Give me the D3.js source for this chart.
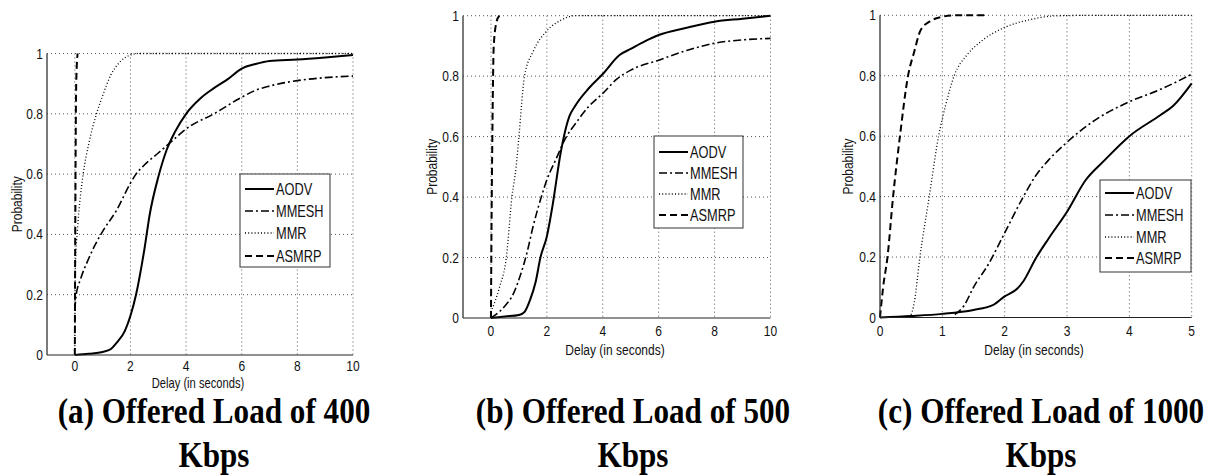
<!DOCTYPE html>
<html><head><meta charset="utf-8">
<script src="https://cdn.jsdelivr.net/npm/d3@7"></script>
<style>body{margin:0;background:#fff}svg{display:block}</style>
</head><body>
<svg id="c" width="1219" height="476"></svg>
<script>
// ---- data ----
const seriesNames = ["AODV", "MMESH", "MMR", "ASMRP"];
const yTicks = [0, 0.2, 0.4, 0.6, 0.8, 1];
const yTickLabels = ["0", "0.2", "0.4", "0.6", "0.8", "1"];
const xTicksAB = [0, 2, 4, 6, 8, 10];
const xTicksC = [0, 1, 2, 3, 4, 5];
const captions = [["(a) Offered Load of 400", "Kbps"], ["(b) Offered Load of 500", "Kbps"], ["(c) Offered Load of 1000", "Kbps"]];

// Panel (a) 400 Kbps
const aodvA = [[0,0],[0.5,0.004],[1,0.01],[1.3,0.02],[1.5,0.04],[1.8,0.08],[2,0.13],[2.2,0.2],[2.5,0.35],[2.7,0.47],[3,0.59],[3.3,0.68],[3.6,0.74],[4,0.8],[4.5,0.85],[5,0.885],[5.5,0.915],[6,0.95],[6.5,0.965],[7,0.975],[8,0.98],[9,0.987],[10,0.995]];
const mmeshA = [[0,0.15],[0.05,0.2],[0.2,0.25],[0.5,0.32],[0.7,0.36],[1,0.41],[1.5,0.48],[2,0.57],[2.2,0.6],[2.5,0.63],[3,0.67],[3.5,0.71],[4,0.75],[5,0.8],[6,0.855],[6.5,0.878],[7,0.892],[8,0.91],[9,0.92],[10,0.925]];
const mmrA = [[0,0.02],[0.02,0.3],[0.1,0.42],[0.3,0.6],[0.5,0.7],[0.78,0.8],[1,0.86],[1.3,0.93],[1.6,0.97],[2,0.995],[2.3,1],[10,1]];
const asmrpA = [[0,0],[0.02,0.5],[0.05,0.9],[0.1,1]];

// Panel (b) 500 Kbps
const aodvB = [[0,0],[0.5,0.005],[1,0.01],[1.2,0.02],[1.4,0.06],[1.6,0.12],[1.77,0.2],[2,0.27],[2.2,0.37],[2.5,0.55],[2.8,0.666],[3,0.7],[3.5,0.76],[4,0.807],[4.6,0.87],[5,0.89],[5.5,0.915],[6,0.936],[7,0.96],[8,0.98],[9,0.99],[10,1]];
const mmeshB = [[0,0],[0.5,0.04],[0.8,0.08],[1,0.127],[1.3,0.22],[1.5,0.3],[1.8,0.4],[2,0.457],[2.3,0.52],[2.7,0.6],[3,0.64],[3.5,0.7],[4,0.743],[4.5,0.79],[5,0.82],[6,0.853],[7,0.885],[8,0.909],[9,0.92],[10,0.925]];
const mmrB = [[0,0.02],[0.3,0.1],[0.55,0.2],[0.75,0.4],[0.9,0.5],[1,0.6],[1.2,0.8],[1.5,0.88],[2,0.95],[2.5,0.985],[3,1],[10,1]];
const asmrpB = [[0,0],[0.02,0.3],[0.05,0.6],[0.1,0.9],[0.2,0.98],[0.3,1]];

// Panel (c) 1000 Kbps
const aodvC = [[0,0],[0.5,0.005],[1,0.012],[1.5,0.025],[1.8,0.04],[2,0.07],[2.2,0.095],[2.3,0.12],[2.5,0.196],[2.7,0.26],[3,0.35],[3.3,0.455],[3.6,0.52],[4,0.6],[4.5,0.67],[4.7,0.7],[5,0.775]];
const mmeshC = [[1.2,0.01],[1.35,0.04],[1.5,0.1],[1.75,0.18],[2,0.28],[2.3,0.4],[2.5,0.47],[2.7,0.52],[3,0.58],[3.5,0.66],[4,0.714],[4.5,0.755],[5,0.805]];
const mmrC = [[0.48,0],[0.55,0.05],[0.64,0.2],[0.79,0.4],[0.94,0.6],[1.05,0.7],[1.19,0.8],[1.4,0.87],[1.6,0.91],[2,0.96],[2.4,0.985],[2.8,0.998],[3.5,1],[5,1]];
const asmrpC = [[0,0],[0.05,0.1],[0.12,0.2],[0.21,0.4],[0.32,0.6],[0.45,0.8],[0.55,0.88],[0.65,0.95],[0.8,0.98],[1,0.995],[1.2,1],[1.7,1]];

// ---- layout / styles ----
const styles = [
  {dash: null, w: 2},
  {dash: "8,3,2,3", w: 1.6},
  {dash: "1,2.2", w: 1.3},
  {dash: "7,4", w: 2}
];
const panels = [
  {left:47, right:353, top:53.5, bottom:355, xdom:[-1,10], xticks:xTicksAB, series:[aodvA,mmeshA,mmrA,asmrpA],
   legend:{x:240,y:174,w:90,h:93,rows:[189,211,233,256]}, tickY:371, xlabX:198, xlabY:388, xlabSize:14, ylabX:22, capX:214},
  {left:463, right:770.5, top:15.7, bottom:318, xdom:[-1,10], xticks:xTicksAB, series:[aodvB,mmeshB,mmrB,asmrpB],
   legend:{x:654,y:136,w:89,h:92,rows:[152,173,194,215]}, tickY:336, xlabX:615, xlabY:355, xlabSize:15, ylabX:437, capX:633},
  {left:880, right:1191.7, top:15.3, bottom:317.5, xdom:[0,5], xticks:xTicksC, series:[aodvC,mmeshC,mmrC,asmrpC],
   legend:{x:1100,y:180,w:91,h:92,rows:[193,215,237,258]}, tickY:336, xlabX:1034, xlabY:355, xlabSize:15, ylabX:853, capX:1041}
];
const SX = 0.8;
const svg = d3.select("#c");

function txt(g, x, y, s, size, anchor) {
  return g.append("text")
    .attr("transform", `translate(${x},${y}) scale(${SX},1)`)
    .attr("text-anchor", anchor)
    .attr("font-family", "'Liberation Sans', Arial, sans-serif")
    .attr("font-size", size)
    .attr("fill", "#111")
    .text(s);
}

panels.forEach((p, pi) => {
  const g = svg.append("g");
  const x = d3.scaleLinear().domain(p.xdom).range([p.left, p.right]);
  const y = d3.scaleLinear().domain([0,1]).range([p.bottom, p.top]);
  // grid
  g.selectAll(".gx").data(p.xticks.filter(t => x(t) > p.left + 1)).enter().append("line")
    .attr("x1", d => x(d)).attr("x2", d => x(d)).attr("y1", p.top).attr("y2", p.bottom)
    .attr("stroke", "#555").attr("stroke-width", 1).attr("stroke-dasharray", "1,3");
  g.selectAll(".gy").data(yTicks.filter(t => t > 0)).enter().append("line")
    .attr("x1", p.left).attr("x2", p.right).attr("y1", d => y(d)).attr("y2", d => y(d))
    .attr("stroke", "#555").attr("stroke-width", 1).attr("stroke-dasharray", "1,3");
  // curves
  const line = d3.line().x(d => x(d[0])).y(d => y(d[1])).curve(d3.curveMonotoneX);
  p.series.forEach((s, si) => {
    const st = styles[si];
    const path = g.append("path").datum(s).attr("d", line)
      .attr("fill", "none").attr("stroke", "#000").attr("stroke-width", st.w);
    if (st.dash) path.attr("stroke-dasharray", st.dash);
  });
  // axes (left & bottom only)
  g.append("line").attr("x1", p.left).attr("x2", p.left).attr("y1", p.top).attr("y2", p.bottom)
    .attr("stroke", "#222").attr("stroke-width", 1.2);
  g.append("line").attr("x1", p.left).attr("x2", p.right).attr("y1", p.bottom).attr("y2", p.bottom)
    .attr("stroke", "#222").attr("stroke-width", 1.2);
  // tick labels
  yTicks.forEach((t, i) => txt(g, p.left - 4, y(t) + 5, yTickLabels[i], 15, "end"));
  p.xticks.forEach(t => txt(g, x(t), p.tickY, String(t), 15, "middle"));
  // axis labels
  txt(g, p.xlabX, p.xlabY, "Delay (in seconds)", p.xlabSize, "middle");
  g.append("text")
    .attr("transform", `translate(${p.ylabX},${(p.top + p.bottom) / 2}) rotate(-90) scale(${SX},1)`)
    .attr("text-anchor", "middle").attr("font-family", "'Liberation Sans', Arial, sans-serif")
    .attr("font-size", 15).attr("fill", "#111").text("Probability");
  // legend
  const L = p.legend;
  g.append("rect").attr("x", L.x).attr("y", L.y).attr("width", L.w).attr("height", L.h)
    .attr("fill", "#fff").attr("stroke", "#333").attr("stroke-width", 1);
  seriesNames.forEach((nm, si) => {
    const st = styles[si];
    const ln = g.append("line").attr("x1", L.x + 5).attr("x2", L.x + 34).attr("y1", L.rows[si]).attr("y2", L.rows[si])
      .attr("stroke", "#000").attr("stroke-width", st.w);
    if (st.dash) ln.attr("stroke-dasharray", st.dash);
    txt(g, L.x + 36, L.rows[si] + 5.5, nm, 16, "start");
  });
  // caption
  captions[pi].forEach((c, ci) => {
    svg.append("text")
      .attr("transform", `translate(${p.capX},${423 + ci * 44}) scale(0.89,1)`)
      .attr("text-anchor", "middle")
      .attr("font-family", "'Liberation Serif', 'Times New Roman', serif")
      .attr("font-weight", "bold").attr("font-size", 35).attr("fill", "#000").text(c);
  });
});
</script>
</body></html>
